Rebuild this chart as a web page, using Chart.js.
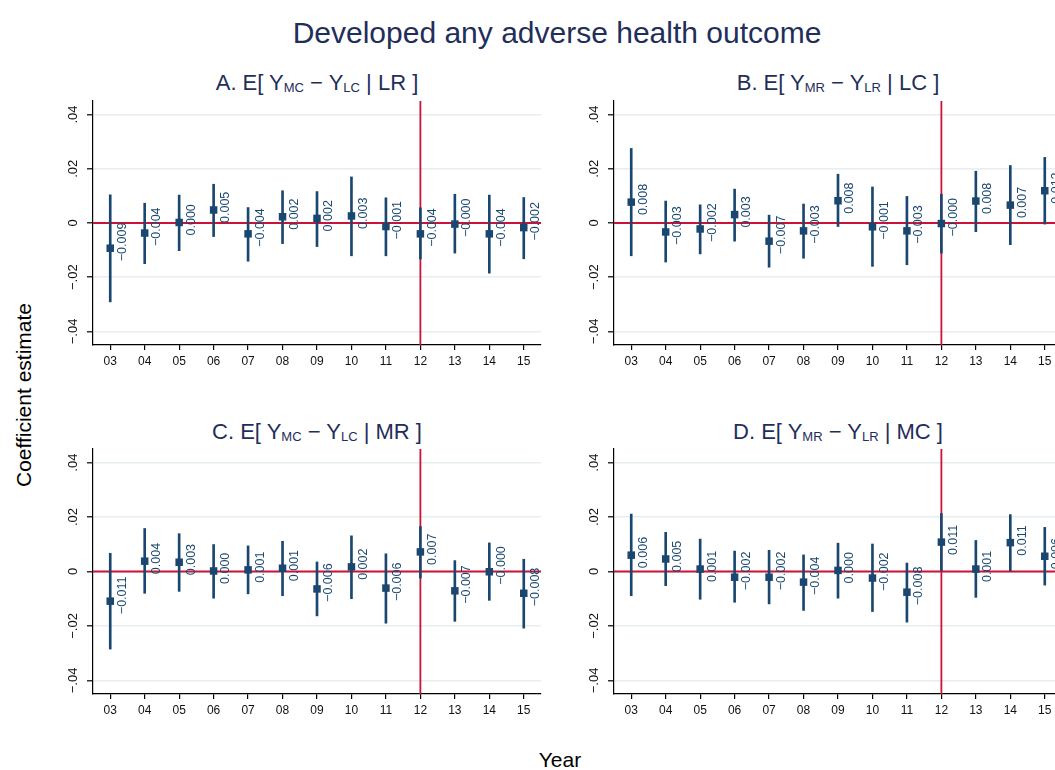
<!DOCTYPE html>
<html>
<head>
<meta charset="utf-8">
<script src="https://cdn.jsdelivr.net/npm/chart.js@4/dist/chart.umd.min.js"></script>
<style>
    html, body { margin: 0; padding: 0; background: #fff; }
    body { width: 1055px; height: 770px; overflow: hidden; position: relative; font-family: "Liberation Sans", Arial, sans-serif; }
    canvas { position: absolute; }
    .txt { position: absolute; white-space: nowrap; line-height: 1; }
    .main-title { font-size: 30px; color: #1f2e5a; transform: translateX(-50%); }
    .panel-title { font-size: 22px; color: #1f2e5a; transform: translateX(-50%); }
    .panel-title sub { font-size: 13px; vertical-align: -2px; line-height: 0; }
    .axis-title { font-size: 21px; color: #000; }
</style>
</head>
<body>

<div class="txt main-title" style="left:557px; top:17.5px;">Developed any adverse health outcome</div>

<div class="txt panel-title" style="left:317px; top:72.4px;">A. E[ Y<sub>MC</sub> − Y<sub>LC</sub> | LR ]</div>
<div class="txt panel-title" style="left:838px; top:72.4px;">B. E[ Y<sub>MR</sub> − Y<sub>LR</sub> | LC ]</div>
<div class="txt panel-title" style="left:317px; top:421.4px;">C. E[ Y<sub>MC</sub> − Y<sub>LC</sub> | MR ]</div>
<div class="txt panel-title" style="left:838px; top:421.4px;">D. E[ Y<sub>MR</sub> − Y<sub>LR</sub> | MC ]</div>

<div class="txt axis-title" style="left:23px; top:395px; transform: translate(-50%, -50%) rotate(-90deg);">Coefficient estimate</div>
<div class="txt axis-title" style="left:560px; top:749px; transform: translateX(-50%);">Year</div>

<canvas id="panelA" width="528" height="294" style="left:33px; top:91px;"></canvas>
<canvas id="panelB" width="528" height="294" style="left:554px; top:91px;"></canvas>
<canvas id="panelC" width="528" height="295" style="left:33px; top:439px;"></canvas>
<canvas id="panelD" width="528" height="295" style="left:554px; top:439px;"></canvas>

<script>
// years on the x axis
const yearValues = [3, 4, 5, 6, 7, 8, 9, 10, 11, 12, 13, 14, 15];
const yearLabels = ['03', '04', '05', '06', '07', '08', '09', '10', '11', '12', '13', '14', '15'];

// y axis ticks
const yTickValues = [-0.04, -0.02, 0, 0.02, 0.04];
const yTickLabels = ['−.04', '−.02', '0', '.02', '.04'];

// reference lines
const zeroLine = 0;
const eventYear = 12;

// A. E[ Y_MC - Y_LC | LR ]
const coefA = [-0.0093, -0.0037, 0.0002, 0.0048, -0.0040, 0.0023, 0.0017, 0.0026, -0.0013, -0.0040, -0.0004, -0.0040, -0.0017];
const lowA  = [-0.0291, -0.0150, -0.0102, -0.0050, -0.0141, -0.0076, -0.0087, -0.0121, -0.0121, -0.0133, -0.0111, -0.0185, -0.0132];
const highA = [0.0104, 0.0073, 0.0103, 0.0143, 0.0057, 0.0119, 0.0116, 0.0170, 0.0093, 0.0056, 0.0106, 0.0103, 0.0094];

// B. E[ Y_MR - Y_LR | LC ]
const coefB = [0.0077, -0.0033, -0.0022, 0.0031, -0.0067, -0.0029, 0.0082, -0.0014, -0.0029, -0.0002, 0.0081, 0.0066, 0.0119];
const lowB  = [-0.0121, -0.0144, -0.0114, -0.0067, -0.0163, -0.0130, -0.0013, -0.0160, -0.0154, -0.0111, -0.0032, -0.0080, -0.0004];
const highB = [0.0275, 0.0081, 0.0067, 0.0125, 0.0029, 0.0070, 0.0180, 0.0133, 0.0098, 0.0106, 0.0191, 0.0212, 0.0242];

// C. E[ Y_MC - Y_LC | MR ]
const coefC = [-0.0109, 0.0038, 0.0034, 0.0002, 0.0006, 0.0012, -0.0064, 0.0017, -0.0061, 0.0072, -0.0071, -0.0001, -0.0080];
const lowC  = [-0.0285, -0.0080, -0.0073, -0.0098, -0.0082, -0.0089, -0.0163, -0.0100, -0.0190, -0.0024, -0.0183, -0.0106, -0.0208];
const highC = [0.0067, 0.0158, 0.0139, 0.0099, 0.0094, 0.0111, 0.0035, 0.0131, 0.0065, 0.0165, 0.0040, 0.0105, 0.0045];

// D. E[ Y_MR - Y_LR | MC ]
const coefD = [0.0060, 0.0046, 0.0009, -0.0021, -0.0021, -0.0039, 0.0004, -0.0024, -0.0076, 0.0108, 0.0009, 0.0106, 0.0056];
const lowD  = [-0.0089, -0.0052, -0.0102, -0.0113, -0.0119, -0.0143, -0.0098, -0.0147, -0.0186, 0.0000, -0.0095, 0.0000, -0.0050];
const highD = [0.0211, 0.0144, 0.0119, 0.0075, 0.0078, 0.0061, 0.0104, 0.0101, 0.0031, 0.0213, 0.0114, 0.0209, 0.0162];

const navy = '#1a476f';
const refRed = '#cc1236';
const gridColor = '#e6eef2';
const fontFamily = '"Liberation Sans", Arial, sans-serif';

function fmt(v) {
    return v.toFixed(3).replace('-', '−');
}

// red reference lines, coefficient labels and rotated y tick labels
const panelDecor = {
    id: 'panelDecor',
    beforeDatasetsDraw(chart) {
        const { ctx, chartArea: a, scales: { x, y } } = chart;
        ctx.save();
        ctx.strokeStyle = refRed;
        ctx.lineWidth = 1.8;
        ctx.beginPath();
        const y0 = y.getPixelForValue(zeroLine);
        ctx.moveTo(a.left, y0);
        ctx.lineTo(a.right, y0);
        const xe = x.getPixelForValue(eventYear);
        ctx.moveTo(xe, a.top);
        ctx.lineTo(xe, a.bottom);
        ctx.stroke();
        ctx.restore();
    },
    afterDraw(chart) {
        const { ctx, chartArea: a, scales: { x, y } } = chart;
        const coef = chart.config.options.plugins.panelDecor.coef;

        ctx.save();
        ctx.font = '12.5px ' + fontFamily;
        ctx.fillStyle = navy;
        ctx.textAlign = 'left';
        ctx.textBaseline = 'middle';
        coef.forEach((v, i) => {
            ctx.save();
            ctx.translate(x.getPixelForValue(yearValues[i]) + 12, y.getPixelForValue(v) + 13);
            ctx.rotate(-Math.PI / 2);
            ctx.fillText(fmt(v), 0, 0);
            ctx.restore();
        });

        ctx.font = '13px ' + fontFamily;
        ctx.fillStyle = '#111';
        ctx.textAlign = 'center';
        yTickValues.forEach((v, i) => {
            ctx.save();
            ctx.translate(a.left - 20, y.getPixelForValue(v));
            ctx.rotate(-Math.PI / 2);
            ctx.fillText(yTickLabels[i], 0, 0);
            ctx.restore();
        });
        ctx.restore();
    }
};

function makePanel(id, coef, low, high) {
    const ctx = document.getElementById(id).getContext('2d');
    return new Chart(ctx, {
        type: 'bar',
        data: {
            datasets: [{
                type: 'scatter',
                data: yearValues.map((yr, i) => ({ x: yr, y: coef[i] })),
                pointStyle: 'rect',
                pointRadius: 5.3,
                backgroundColor: navy,
                borderWidth: 0,
                order: 1
            }, {
                type: 'bar',
                data: yearValues.map((yr, i) => ({ x: yr, y: [low[i], high[i]] })),
                backgroundColor: navy,
                borderWidth: 0,
                barThickness: 2,
                grouped: false,
                order: 2
            }]
        },
        options: {
            responsive: false,
            animation: false,
            events: [],
            layout: { padding: { top: 10, right: 20, left: 0, bottom: 0 } },
            plugins: {
                legend: { display: false },
                tooltip: { enabled: false },
                panelDecor: { coef: coef }
            },
            scales: {
                x: {
                    type: 'linear',
                    min: 2.5,
                    max: 15.5,
                    offset: false,
                    afterBuildTicks: scale => { scale.ticks = yearValues.map(v => ({ value: v })); },
                    afterFit: scale => { scale.height = 40; },
                    ticks: {
                        autoSkip: false,
                        maxRotation: 0,
                        padding: 4,
                        color: '#111',
                        font: { size: 12, family: fontFamily },
                        callback: (v, i) => yearLabels[i]
                    },
                    grid: {
                        drawOnChartArea: false,
                        offset: false,
                        tickLength: 5,
                        tickColor: '#000',
                        lineWidth: 1.2
                    },
                    border: { color: '#000', width: 1.2 }
                },
                y: {
                    type: 'linear',
                    min: -0.045,
                    max: 0.045,
                    afterBuildTicks: scale => { scale.ticks = yTickValues.map(v => ({ value: v })); },
                    afterFit: scale => { scale.width = 60; },
                    ticks: { display: false },
                    grid: {
                        color: gridColor,
                        lineWidth: 1.6,
                        tickLength: 6,
                        tickColor: '#000',
                        tickWidth: 1.2
                    },
                    border: { color: '#000', width: 1.2 }
                }
            }
        },
        plugins: [panelDecor]
    });
}

makePanel('panelA', coefA, lowA, highA);
makePanel('panelB', coefB, lowB, highB);
makePanel('panelC', coefC, lowC, highC);
makePanel('panelD', coefD, lowD, highD);
</script>
</body>
</html>
